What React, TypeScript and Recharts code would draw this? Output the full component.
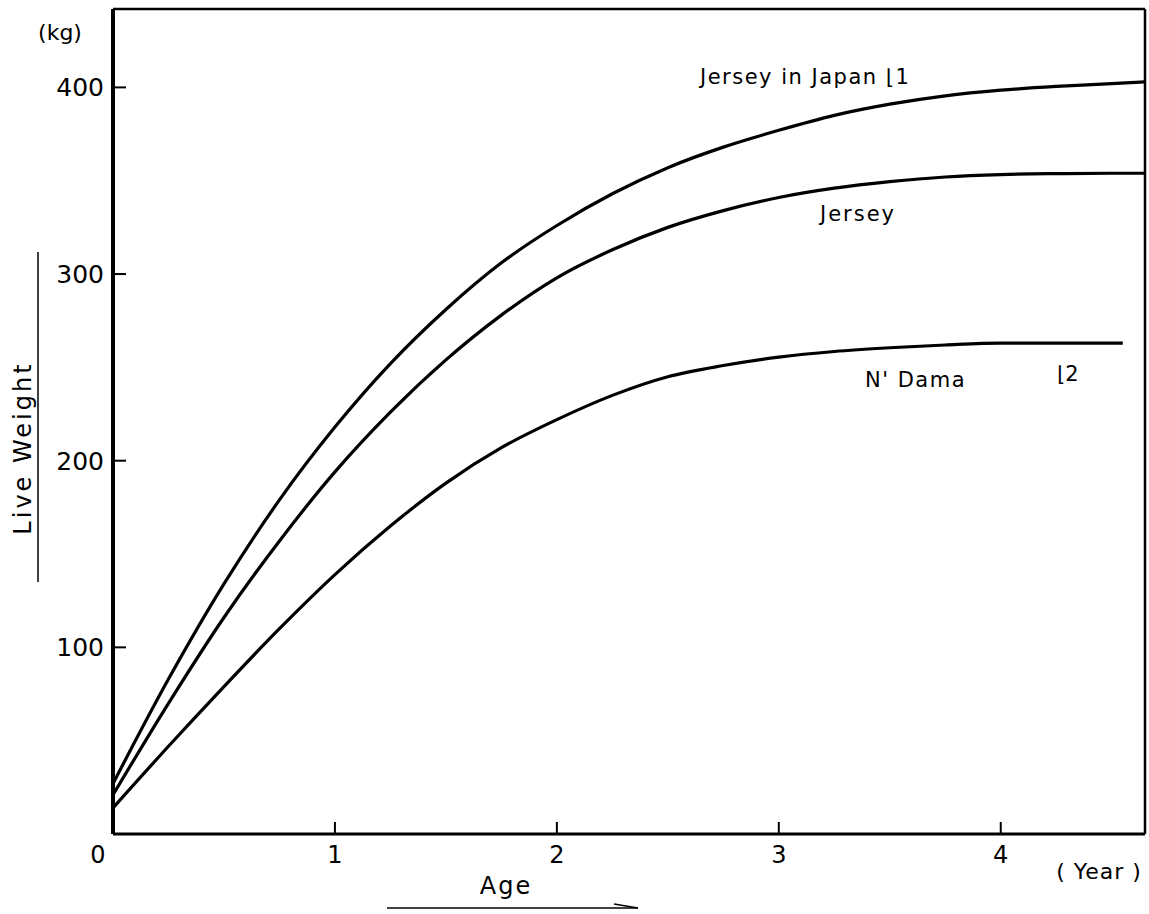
import React from 'react';
import { LineChart, Line, XAxis, YAxis, ReferenceLine } from 'recharts';

const FONT = '"DejaVu Sans", "Liberation Sans", sans-serif';

// Age in years (x values)
const ageYears = [0, 0.25, 0.5, 0.75, 1, 1.25, 1.5, 1.75, 2, 2.25, 2.5, 2.75, 3, 3.25, 3.5, 3.75, 4, 4.25, 4.5, 4.65];
const ndamaYears = [0, 0.25, 0.5, 0.75, 1, 1.25, 1.5, 1.75, 2, 2.25, 2.5, 2.75, 3, 3.25, 3.5, 3.75, 4, 4.25, 4.5, 4.55];

// Live weight (kg)
const jerseyJapan = [27, 83, 134, 179, 218, 252, 281, 306, 326, 343, 357, 368, 377, 385, 391, 395.5, 398.5, 400.5, 402, 403];
const jersey = [21, 70, 116, 157, 194, 226, 254, 278, 298, 313, 325, 334, 341, 346, 349.5, 352, 353.3, 353.8, 354, 354];
const ndama = [14, 47, 79, 110, 139, 165, 188, 207, 222, 235, 245, 251, 255.5, 258.5, 260.5, 262, 263, 263, 263, 263];

const xTicks = [0, 1, 2, 3, 4];
const yTicks = [100, 200, 300, 400];
const xMax = 4.65;
const yMax = 442;

const japanData = ageYears.map((t, i) => ({ t, v: jerseyJapan[i] }));
const jerseyData = ageYears.map((t, i) => ({ t, v: jersey[i] }));
const ndamaData = ndamaYears.map((t, i) => ({ t, v: ndama[i] }));

const XTick = (props: any) => {
  const { x, y, payload } = props;
  const v = payload.value;
  return (
    <g>
      {v !== 0 && <line x1={x} y1={y} x2={x} y2={y - 12} stroke="#000" strokeWidth={2} />}
      <text x={v === 0 ? x - 15 : x} y={y + 29} textAnchor="middle" fontSize={24} fontFamily={FONT} fill="#000">
        {v}
      </text>
    </g>
  );
};

const YTick = (props: any) => {
  const { x, y, payload } = props;
  return (
    <g>
      <line x1={x} y1={y} x2={x + 13} y2={y} stroke="#000" strokeWidth={2} />
      <text x={x - 9} y={y + 9} textAnchor="end" fontSize={25} fontFamily={FONT} fill="#000">
        {payload.value}
      </text>
    </g>
  );
};

export default function App() {
  return (
    <div style={{ position: 'absolute', left: 0, top: 0, width: 1149, height: 914, background: '#fff' }}>
      <LineChart width={1149} height={914} margin={{ top: 9, right: 4, bottom: 40, left: 53 }}>
        <XAxis
          type="number"
          dataKey="t"
          domain={[0, xMax]}
          ticks={xTicks}
          height={40}
          tickSize={0}
          tickMargin={0}
          tick={(p: any) => <XTick {...p} />}
          axisLine={{ stroke: '#000', strokeWidth: 3 }}
          allowDataOverflow
        />
        <YAxis
          type="number"
          domain={[0, yMax]}
          ticks={yTicks}
          width={60}
          tickSize={0}
          tickMargin={0}
          tick={(p: any) => <YTick {...p} />}
          axisLine={{ stroke: '#000', strokeWidth: 4 }}
          allowDataOverflow
        />
        <ReferenceLine y={yMax} stroke="#000" strokeWidth={2.5} ifOverflow="visible" />
        <ReferenceLine x={xMax} stroke="#000" strokeWidth={2.5} ifOverflow="visible" />
        <Line data={japanData} dataKey="v" type="monotone" stroke="#000" strokeWidth={3.2} dot={false} isAnimationActive={false} />
        <Line data={jerseyData} dataKey="v" type="monotone" stroke="#000" strokeWidth={3.2} dot={false} isAnimationActive={false} />
        <Line data={ndamaData} dataKey="v" type="monotone" stroke="#000" strokeWidth={3.2} dot={false} isAnimationActive={false} />
      </LineChart>
      <svg width={1149} height={914} style={{ position: 'absolute', left: 0, top: 0, pointerEvents: 'none' }}>
        <g fontFamily={FONT} fill="#000">
          <text x={60} y={40} textAnchor="middle" fontSize={22}>(kg)</text>
          <text x={31} y={448} textAnchor="middle" fontSize={24} letterSpacing={3} transform="rotate(-90 31 448)">Live Weight</text>
          <line x1={38} y1={252} x2={38} y2={582} stroke="#000" strokeWidth={1.5} />
          <text x={700} y={84} fontSize={21} letterSpacing={1.5}>Jersey in Japan ⌊1</text>
          <text x={820} y={221} fontSize={21} letterSpacing={2}>Jersey</text>
          <text x={865} y={387} fontSize={21} letterSpacing={1.5}>N' Dama</text>
          <text x={1057} y={381} fontSize={21}>⌊2</text>
          <text x={1099} y={879} textAnchor="middle" fontSize={22} letterSpacing={1}>( Year )</text>
          <text x={506} y={894} textAnchor="middle" fontSize={24} letterSpacing={2}>Age</text>
          <line x1={387} y1={908} x2={638} y2={908} stroke="#000" strokeWidth={1.5} />
          <line x1={614} y1={904} x2={638} y2={908} stroke="#000" strokeWidth={1.5} />
        </g>
      </svg>
    </div>
  );
}
